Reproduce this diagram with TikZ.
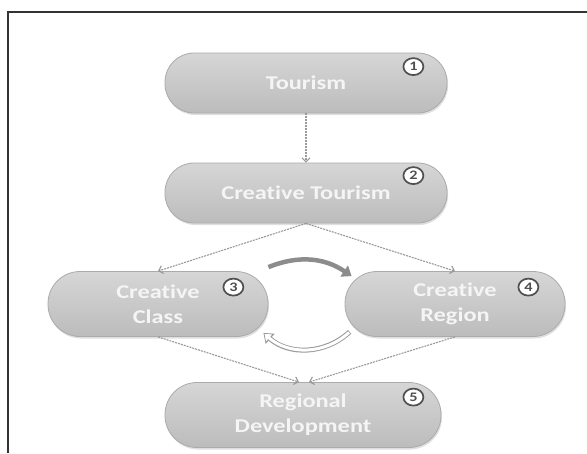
\documentclass[tikz,border=0pt]{standalone}
\usepackage{fontspec}
\setmainfont[FakeStretch=1.25,Ligatures=NoCommon]{Carlito}
\usetikzlibrary{arrows.meta,shapes.geometric,shadows}
\definecolor{boxtop}{HTML}{D6D6D6}
\definecolor{boxbot}{HTML}{BCBCBC}
\definecolor{boxline}{HTML}{ABABAB}
\definecolor{tagline}{HTML}{505050}
\definecolor{flowgray}{HTML}{999999}
\definecolor{cyclegray}{HTML}{8C8C8C}
\definecolor{framegray}{HTML}{333333}
\begin{document}
\begin{tikzpicture}[x=1pt,y=-1pt,
    stage/.style={rectangle,top color=boxtop,bottom color=boxbot,draw=boxline,line width=0.8pt,
      text=white!96!black,font=\bfseries\fontsize{19.5}{25}\selectfont,align=center,inner sep=0pt,
      drop shadow={opacity=0.25,shadow xshift=1pt,shadow yshift=-2pt}},
    numtag/.style={ellipse,draw=tagline,fill=white,line width=1.7pt,minimum width=20pt,
      minimum height=17pt,inner sep=0pt,text=tagline,font=\bfseries\fontsize{13}{13}\selectfont},
    flow/.style={draw=flowgray,line width=1.1pt,dash pattern=on 2pt off 1pt,
      -{Straight Barb[length=4pt,width=8pt]}}]
    \useasboundingbox (0,0) rectangle (587,453);
    \draw[framegray,line width=1.5pt] (8,453) -- (8,12) -- (587,12);
    % stages
    \node[stage,minimum width=282pt,minimum height=60pt,rounded corners=29pt] (tour) at (306,83) {Tourism};
    \node[stage,minimum width=282pt,minimum height=60pt,rounded corners=29pt] (ctour) at (306,193) {Creative Tourism};
    \node[stage,minimum width=220pt,minimum height=65pt,rounded corners=32pt] (cclass) at (158,304) {Creative\\Class};
    \node[stage,minimum width=220pt,minimum height=65pt,rounded corners=32pt] (cregion) at (455,304) {Creative\\Region};
    \node[stage,minimum width=276pt,minimum height=65pt,rounded corners=32pt] (regdev) at (303,415) {Regional\\Development};
    % numbers
    \node[numtag] (t1) at ([xshift=-34pt,yshift=-14pt]tour.north east) {1};
    \node[numtag] (t2) at ([xshift=-34pt,yshift=-13pt]ctour.north east) {2};
    \node[numtag] (t3) at ([xshift=-35pt,yshift=-16pt]cclass.north east) {3};
    \node[numtag] (t4) at ([xshift=-37pt,yshift=-16pt]cregion.north east) {4};
    \node[numtag] (t5) at ([xshift=-28pt,yshift=-15pt]regdev.north east) {5};
    % flows
    \draw[flow] (tour) -- (ctour);
    \draw[flow] (ctour.south) -- (cclass.north);
    \draw[flow] (ctour.south) -- (cregion.north);
    \draw[flow] (cclass.south) -- ([xshift=-4pt]regdev.north);
    \draw[flow] (cregion.south) -- ([xshift=6pt]regdev.north);
    % cycle
    \draw[cyclegray,line width=4.5pt,-{Triangle[length=9pt,width=13pt]}]
      ([yshift=4pt]cclass.north east) to[bend left=28] ([xshift=7pt,yshift=-5pt]cregion.north west);
    \draw[flowgray,line width=5pt,-{Triangle[length=9pt,width=13pt]}]
      ([xshift=5pt,yshift=5pt]cregion.south west) to[bend left=42] ([xshift=-5pt,yshift=4pt]cclass.south east);
    \draw[white,line width=3pt,shorten <=0.8pt,shorten >=1.6pt,-{Triangle[length=6pt,width=9pt]}]
      ([xshift=5pt,yshift=5pt]cregion.south west) to[bend left=42] ([xshift=-5pt,yshift=4pt]cclass.south east);
\end{tikzpicture}
\end{document}
